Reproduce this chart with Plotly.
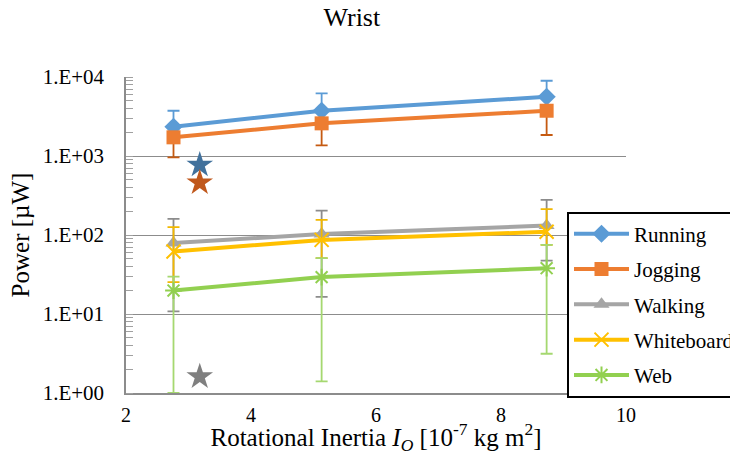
import plotly.graph_objects as go

# ---- data ----
inertia = [2.76, 5.13, 8.73]          # Rotational inertia [1e-7 kg m^2]
series_names = ["Running", "Jogging", "Walking", "Whiteboard", "Web"]

running = [2345, 3740, 5620]
running_hi = [3740, 6205, 8960]
running_lo = [2345, 3740, 5620]

jogging = [1723, 2590, 3740]
jogging_hi = [1723, 2590, 3740]
jogging_lo = [963, 1366, 1844]

walking = [79, 103, 131.5]
walking_hi = [160, 203, 278]
walking_lo = [10.8, 16.5, 47.5]

whiteboard = [61.7, 86.7, 110]
whiteboard_hi = [125.5, 155, 212]
whiteboard_lo = [25.3, 50.9, 75]

web = [19.8, 29.3, 38.0]
web_hi = [29.8, 50.9, 75]
web_lo = [1.0, 1.40, 3.14]

star_x = [3.18]
star_running = [770]
star_jogging = [459]
star_walking = [1.61]

y_tickvals = [1, 10, 100, 1000, 10000]
y_ticktext = ["1.E+00", "1.E+01", "1.E+02", "1.E+03", "1.E+04"]
x_tickvals = [2, 4, 6, 8, 10]

FONT = "Liberation Serif, Times New Roman, serif"

styles = [
    dict(vals=running, hi=running_hi, lo=running_lo, color="#5B9BD5", ecolor="#5B9BD5",
         symbol="diamond", size=14, lw=0),
    dict(vals=jogging, hi=jogging_hi, lo=jogging_lo, color="#ED7D31", ecolor="#C55A11",
         symbol="square", size=14, lw=0),
    dict(vals=walking, hi=walking_hi, lo=walking_lo, color="#A5A5A5", ecolor="#8C8C8C",
         symbol="triangle-up", size=14, lw=0),
    dict(vals=whiteboard, hi=whiteboard_hi, lo=whiteboard_lo, color="#FFC000", ecolor="#F2B800",
         symbol="x-thin-open", size=14, lw=2),
    dict(vals=web, hi=web_hi, lo=web_lo, color="#92D050", ecolor="#A5D870",
         symbol="asterisk-open", size=14, lw=2),
]

fig = go.Figure()
for i, (name, st) in enumerate(zip(series_names, styles)):
    plus = [h - v for h, v in zip(st["hi"], st["vals"])]
    minus = [v - l for v, l in zip(st["vals"], st["lo"])]
    marker = dict(symbol=st["symbol"], size=st["size"], color=st["color"])
    if st["lw"]:
        marker["line"] = dict(color=st["color"], width=st["lw"])
    fig.add_trace(go.Scatter(
        x=inertia, y=st["vals"], name=name, mode="lines+markers",
        line=dict(color=st["color"], width=4),
        marker=marker, legendgroup=name,
        error_y=dict(type="data", symmetric=False, array=plus, arrayminus=minus,
                     color=st["ecolor"], thickness=1.8, width=6),
    ))

for yv, col in [(star_running, "#41719C"), (star_jogging, "#C0581C"), (star_walking, "#7F7F7F")]:
    fig.add_trace(go.Scatter(
        x=star_x, y=yv, mode="markers", showlegend=False,
        marker=dict(symbol="star", size=20, color=col),
    ))

fig.update_layout(
    width=730, height=455,
    paper_bgcolor="white", plot_bgcolor="white",
    font=dict(family=FONT, size=21, color="black"),
    margin=dict(l=126, r=104, t=77, b=62, autoexpand=False),
    title=dict(text="Wrist", x=0.482, xanchor="center", y=0.962, yanchor="middle",
               font=dict(family=FONT, size=26, color="black")),
    showlegend=True,
    legend=dict(x=0.882, y=0.574, xanchor="left", yanchor="top",
                bgcolor="white", bordercolor="black", borderwidth=2,
                font=dict(family=FONT, size=21, color="black"),
                itemwidth=55, tracegroupgap=5, traceorder="grouped"),
)

fig.update_xaxes(
    range=[2, 10], tickvals=x_tickvals, showgrid=False, zeroline=False,
    showline=True, linecolor="#8C8C8C", linewidth=1.5, ticks="",
    ticklabelstandoff=3,
    tickfont=dict(family=FONT, size=20, color="black"),
    title=dict(text="Rotational Inertia <i>I</i><sub><i>O</i></sub> [10<sup>-7</sup> kg m<sup>2</sup>]",
               font=dict(family=FONT, size=25, color="black"), standoff=4),
)
fig.update_yaxes(
    type="log", range=[0, 4], tickvals=y_tickvals, ticktext=y_ticktext,
    showgrid=True, gridcolor="#8C8C8C", gridwidth=1.3, zeroline=False,
    showline=True, linecolor="#8C8C8C", linewidth=1.5, ticks="",
    ticklabelstandoff=16,
    minor=dict(ticks="inside", ticklen=7, tickcolor="#A0A0A0", tickwidth=1.2,
               dtick="D1", showgrid=False),
    tickfont=dict(family=FONT, size=21, color="black"),
    title=dict(text="Power [µW]", font=dict(family=FONT, size=25, color="black"), standoff=6),
)

fig.write_html("out.html")
